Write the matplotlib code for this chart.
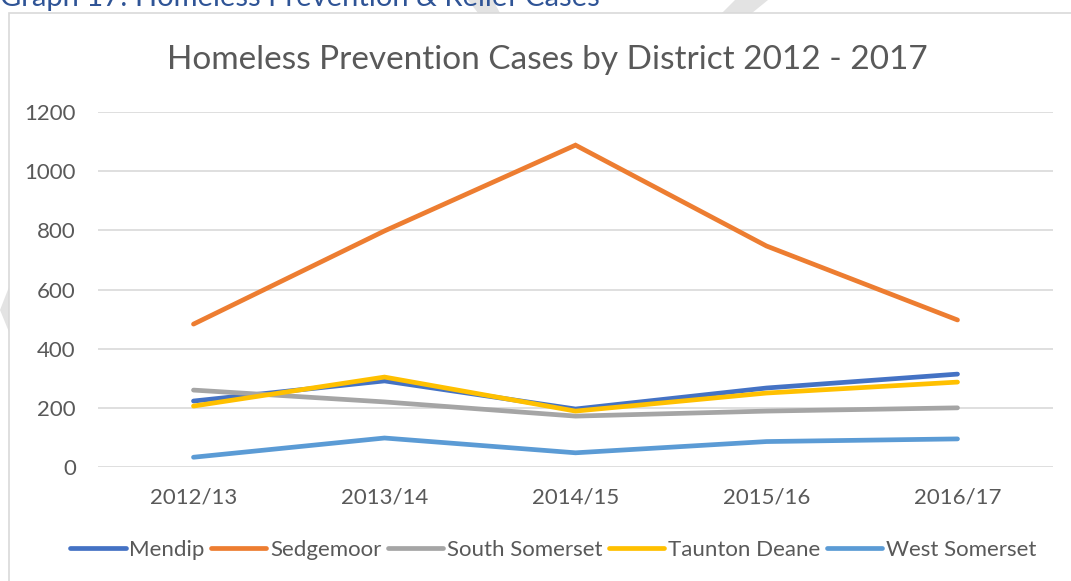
import matplotlib.pyplot as plt
from matplotlib.patches import Rectangle, Polygon

years = ["2012/13", "2013/14", "2014/15", "2015/16", "2016/17"]
mendip = [223, 291, 196, 267, 314]
sedgemoor = [483, 798, 1088, 747, 497]
south_somerset = [260, 220, 172, 189, 200]
taunton_deane = [206, 304, 189, 250, 287]
west_somerset = [33, 98, 48, 86, 95]

series = [
    ("Mendip", mendip, "#4472C4"),
    ("Sedgemoor", sedgemoor, "#ED7D31"),
    ("South Somerset", south_somerset, "#A5A5A5"),
    ("Taunton Deane", taunton_deane, "#FFC000"),
    ("West Somerset", west_somerset, "#5B9BD5"),
]

plt.rcParams['font.family'] = ['Lato', 'DejaVu Sans']
text_col = "#595959"

W, H = 1071, 581
fig = plt.figure(figsize=(W / 100, H / 100), dpi=100)

# faint watermark fragments behind the chart box
wm = "#E3E3E3"
for pts in [
    [(0, 310), (9, 287), (9, 332)],
    [(468, 0), (493, 0), (500, 13), (478, 13)],
    [(735, 0), (768, 0), (752, 13), (722, 13)],
]:
    fig.patches.append(Polygon([(x / W, 1 - y / H) for x, y in pts],
                               closed=True, transform=fig.transFigure,
                               facecolor=wm, edgecolor="none", zorder=0))

# chart border
fig.patches.append(Rectangle((9 / W, -0.1), 1.2, 1 - 13 / H + 0.1,
                             transform=fig.transFigure, facecolor="white",
                             edgecolor="#D9D9D9", linewidth=1.2, zorder=1))

# caption above the chart (cut off at top in the source)
fig.text(0 / W, 1 - 6 / H, "Graph 17: Homeless Prevention & Relief Cases",
         color="#2F5496", fontsize=21, ha="left", va="baseline")

ax = fig.add_axes([98 / W, 1 - 467 / H, 955 / W, 355 / H])
ax.set_zorder(2)
ax.patch.set_alpha(0)

x = list(range(len(years)))
for name, vals, col in series:
    ax.plot(x, vals, color=col, linewidth=3.4, label=name,
            solid_capstyle="round", solid_joinstyle="miter")

ax.set_xlim(-0.5, len(years) - 0.5)
ax.set_ylim(0, 1200)
ax.set_yticks(range(0, 1201, 200))
ax.set_xticks(x)
ax.set_xticklabels(years)
ax.grid(axis="y", color="#D9D9D9", linewidth=1.2)
ax.set_axisbelow(True)
for s in ax.spines.values():
    s.set_visible(False)
ax.tick_params(axis="both", length=0, colors=text_col, labelsize=16)
ax.tick_params(axis="y", pad=16)
ax.tick_params(axis="x", pad=15)

fig.text(547 / W, 1 - 60 / H, "Homeless Prevention Cases by District 2012 - 2017",
         color=text_col, fontsize=24, ha="center", va="center", zorder=3)

fig.legend(loc="center", bbox_to_anchor=(553 / W, 1 - 550 / H), ncol=5,
           frameon=False, fontsize=16, handlelength=2.5, handletextpad=0.15,
           columnspacing=0.3, labelcolor=text_col)

fig.savefig("out.png", dpi=100)
